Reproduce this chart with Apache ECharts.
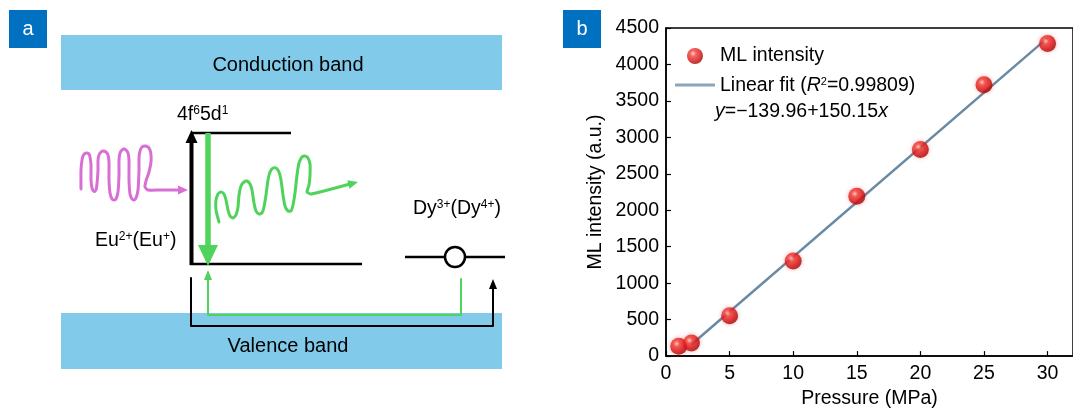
<!DOCTYPE html>
<html>
<head>
<meta charset="utf-8">
<script src="https://cdn.jsdelivr.net/npm/echarts@6/dist/echarts.min.js"></script>
<style>
html,body{margin:0;padding:0;background:#fff;}
#c{width:1073px;height:414px;}
</style>
</head>
<body>
<div id="c"></div>
<script>
// ---- data (panel b) ----
var pressure = [1, 2, 5, 10, 15, 20, 25, 30];
var intensity = [135, 180, 553, 1305, 2191, 2835, 3721, 4288];
var fitX = [2, 30];
var fitY = [160, 4365];
var xTicks = [0, 5, 10, 15, 20, 25, 30];
var yTicks = [0, 500, 1000, 1500, 2000, 2500, 3000, 3500, 4000, 4500];
var seriesNames = ['ML intensity', 'Linear fit'];

var FONT = '"Liberation Sans", Arial, sans-serif';
var chart = echarts.init(document.getElementById('c'), null, {renderer: 'canvas'});

var scatterData = pressure.map(function (p, i) { return [p, intensity[i]]; });
var fitData = fitX.map(function (p, i) { return [p, fitY[i]]; });

var sphere = new echarts.graphic.RadialGradient(0.38, 0.35, 0.7, [
  {offset: 0, color: '#ffd0c8'},
  {offset: 0.25, color: '#f4403a'},
  {offset: 0.7, color: '#d10f0f'},
  {offset: 1, color: '#8f0505'}
]);

var BAND = '#82CAEA';
var GREEN = '#4fd35a';
var PINK = '#d870d4';
var FITC = '#6a8aa3';

function tri(pts, color) {
  return {type: 'polygon', shape: {points: pts}, style: {fill: color}, silent: true};
}
function ln(x1, y1, x2, y2, color, w) {
  return {type: 'line', shape: {x1: x1, y1: y1, x2: x2, y2: y2}, style: {stroke: color, lineWidth: w}, silent: true};
}
function pl(points, color, w, smooth) {
  return {type: 'polyline', shape: {points: points, smooth: smooth || 0}, style: {stroke: color, lineWidth: w, fill: null, lineJoin: 'round', lineCap: 'round'}, silent: true};
}
function txt(x, y, text, rich, align) {
  return {type: 'text', x: x, y: y, silent: true,
    style: {text: text, rich: rich, font: '19.5px ' + FONT, fill: '#000', align: align || 'left', verticalAlign: 'middle'}};
}

var supRich = {
  n: {fontSize: 19.5, fontFamily: FONT, color: '#000', lineHeight: 22, verticalAlign: 'bottom'},
  s: {fontSize: 12, fontFamily: FONT, color: '#000', lineHeight: 22, verticalAlign: 'top', padding: [2, 0, 0, 0]}
};

var pinkWave = [[81,189],[81,170],[82,160],[83,156],[85,153.5],[87,153],[89,154],[90,157],[91,165],[91,180],[92,188],[94,191.5],[96,190],[97,184],[98,170],[98,160],[99,155],[101,152],[103,151],[106,152],[108,155],[109,162],[109,180],[110,193],[112,199],[114,200],[116,199],[118,192],[119,175],[119,160],[120,153],[122,150],[124,149],[126,150],[128,153],[129,160],[129,180],[130,194],[132,199],[134,200],[136,198],[138,190],[139,170],[139,158],[140,151],[142,147],[145,146],[148,147],[150,150],[151,155],[151,162],[149,172],[146,181],[145,187],[148,190],[160,190],[178,190]];
var greenWave = [[219,222],[216,210],[216,200],[218,194],[221,192],[224,194],[226,200],[228,210],[230,216],[233,218],[236,215],[238,207],[239,195],[241,186],[244,182],[247,181],[250,184],[252,190],[254,203],[256,211],[259,214],[262,213],[264,207],[266,195],[268,180],[270,172],[273,168],[276,168],[279,172],[281,180],[283,195],[285,206],[288,211],[291,211],[293,205],[295,193],[297,175],[299,163],[302,157],[305,156],[308,158],[310,164],[310,175],[309,185],[307,192],[311,194],[320,192],[350,184]];

var graphics = [
  // panel labels
  {type: 'rect', shape: {x: 9, y: 10, width: 38, height: 38}, style: {fill: '#0070C0'}, silent: true},
  {type: 'text', x: 28, y: 29, silent: true, style: {text: 'a', font: '20px ' + FONT, fill: '#fff', align: 'center', verticalAlign: 'middle'}},
  {type: 'rect', shape: {x: 563, y: 10, width: 38, height: 38}, style: {fill: '#0070C0'}, silent: true},
  {type: 'text', x: 582, y: 29, silent: true, style: {text: 'b', font: '20px ' + FONT, fill: '#fff', align: 'center', verticalAlign: 'middle'}},
  // bands
  {type: 'rect', shape: {x: 61, y: 35, width: 441, height: 55}, style: {fill: BAND}, silent: true},
  {type: 'rect', shape: {x: 61, y: 313, width: 441, height: 56}, style: {fill: BAND}, silent: true},
  {type: 'text', x: 288, y: 65, silent: true, style: {text: 'Conduction band', font: '20px ' + FONT, fill: '#000', align: 'center', verticalAlign: 'middle'}},
  {type: 'text', x: 288, y: 346, silent: true, style: {text: 'Valence band', font: '20px ' + FONT, fill: '#000', align: 'center', verticalAlign: 'middle'}},
  // levels
  ln(191, 133, 291, 133, '#000', 2.5),
  ln(190, 264, 362, 264, '#000', 2.5),
  ln(405, 257, 505, 257, '#000', 2.5),
  {type: 'circle', shape: {cx: 455, cy: 257, r: 10}, style: {fill: '#fff', stroke: '#000', lineWidth: 2.5}, silent: true},
  // black up arrow (excitation)
  ln(191.5, 265, 191.5, 141, '#000', 4),
  tri([[191.5, 130], [185.5, 143], [197.5, 143]], '#000'),
  // green down arrow (emission)
  ln(208, 133, 208, 248, GREEN, 5.5),
  tri([[208, 266], [198, 245], [218, 245]], GREEN),
  // bottom paths
  pl([[191, 278], [191, 326], [493, 326], [493, 286]], '#000', 2),
  tri([[493, 279], [489, 289], [497, 289]], '#000'),
  pl([[461, 279], [461, 315], [208, 315], [208, 278]], GREEN, 2),
  tri([[208, 270], [204, 280], [212, 280]], GREEN),
  // waves
  pl(pinkWave, PINK, 3, 0.2),
  tri([[188, 190], [178, 185.5], [178, 194.5]], PINK),
  pl(greenWave, GREEN, 3, 0.2),
  tri([[358, 182], [347.3, 180.2], [349.5, 188.8]], GREEN),
  // labels
  txt(177, 114, '{n|4f}{s|6}{n|5d}{s|1}', supRich),
  txt(95, 240, '{n|Eu}{s|2+}{n|(Eu}{s|+}{n|)}', supRich),
  txt(413, 208, '{n|Dy}{s|3+}{n|(Dy}{s|4+}{n|)}', supRich),
  // fit equation
  {type: 'text', x: 715, y: 112, silent: true, style: {
    text: '{i|y}{n|=\u2212139.96+150.15}{i|x}',
    rich: {
      n: {fontSize: 19.5, fontFamily: FONT, color: '#000'},
      i: {fontSize: 19.5, fontFamily: FONT, color: '#000', fontStyle: 'italic'}
    },
    align: 'left', verticalAlign: 'middle'}}
];

var option = {
  animation: false,
  backgroundColor: '#fff',
  textStyle: {fontFamily: FONT},
  grid: {left: 666, top: 28, width: 409.6, height: 334, show: true, borderColor: '#000', borderWidth: 1.5, containLabel: false},
  legend: {
    data: [
      {name: seriesNames[0], icon: 'circle'},
      {name: seriesNames[1], icon: 'path://M0,0H40V3H0Z', itemStyle: {color: '#8aa6bb'}}
    ],
    orient: 'vertical',
    left: 670, top: 41,
    itemWidth: 40, itemHeight: 16, itemGap: 8,
    textStyle: {fontSize: 19.5, fontFamily: FONT, color: '#000',
      rich: {
        n: {fontSize: 19.5, fontFamily: FONT, color: '#000', verticalAlign: 'bottom', lineHeight: 22},
        i: {fontSize: 19.5, fontFamily: FONT, color: '#000', fontStyle: 'italic', verticalAlign: 'bottom', lineHeight: 22},
        s: {fontSize: 11, fontFamily: FONT, color: '#000', verticalAlign: 'top', lineHeight: 22, padding: [2, 0, 0, 0]}
      }},
    formatter: function (name) {
      if (name === 'Linear fit') return '{n|Linear fit (}{i|R}{s|2}{n|=0.99809)}';
      return name;
    }
  },
  xAxis: {
    type: 'value', min: 0, max: 32, interval: 5,
    name: 'Pressure (MPa)', nameLocation: 'middle', nameGap: 32,
    nameTextStyle: {fontSize: 19.5, fontFamily: FONT, color: '#000'},
    axisLine: {show: true, onZero: false, lineStyle: {color: '#000', width: 1.5}},
    axisTick: {show: true, inside: true, length: 5, lineStyle: {color: '#000', width: 1.2}},
    axisLabel: {fontSize: 19.5, fontFamily: FONT, color: '#000', margin: 8, showMaxLabel: false,
      formatter: function (v) { return xTicks.indexOf(v) >= 0 ? String(v) : ''; }},
    splitLine: {show: false}
  },
  yAxis: {
    type: 'value', min: 0, max: 4500, interval: 500,
    name: 'ML intensity (a.u.)', nameLocation: 'middle', nameGap: 60, nameRotate: 90,
    nameTextStyle: {fontSize: 19.5, fontFamily: FONT, color: '#000'},
    axisLine: {show: true, onZero: false, lineStyle: {color: '#000', width: 1.5}},
    axisTick: {show: true, inside: true, length: 5, lineStyle: {color: '#000', width: 1.2}},
    axisLabel: {fontSize: 19.5, fontFamily: FONT, color: '#000', margin: 7,
      formatter: function (v) { return yTicks.indexOf(v) >= 0 ? String(v) : ''; }},
    splitLine: {show: false}
  },
  series: [
    {
      name: seriesNames[0], type: 'scatter', data: scatterData,
      symbol: 'circle', symbolSize: 17, z: 5,
      itemStyle: {color: sphere, shadowColor: 'rgba(230,40,40,0.45)', shadowBlur: 4}
    },
    {
      name: seriesNames[1], type: 'line', data: fitData,
      symbol: 'none', showSymbol: false, z: 3,
      lineStyle: {color: FITC, width: 2.5},
      itemStyle: {color: FITC}
    }
  ],
  graphic: graphics
};
chart.setOption(option);
</script>
</body>
</html>
